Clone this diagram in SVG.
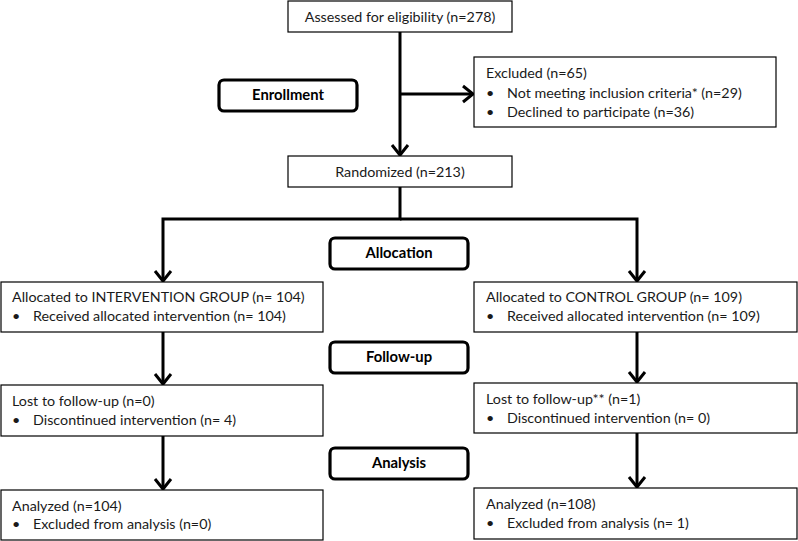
<svg xmlns="http://www.w3.org/2000/svg" width="798" height="541" viewBox="0 0 798 541">
<defs>
<marker id="arr" markerUnits="userSpaceOnUse" markerWidth="24" markerHeight="24" viewBox="-14 -12 16 24" refX="0" refY="0" orient="auto">
<path d="M-10,-8 L0,0 L-10,8" fill="none" stroke="#000" stroke-width="3" stroke-linejoin="miter"/>
</marker>
</defs>
<style>
.box{fill:#fff;stroke:#000;stroke-width:1.2}
.stage{fill:#fff;stroke:#000;stroke-width:3.2}
.t{font-family:Lato,"Open Sans","Liberation Sans",sans-serif;font-size:14.3px;fill:#1a1a1a}
.b{font-family:Lato,"Open Sans","Liberation Sans",sans-serif;font-size:14.8px;font-weight:bold;fill:#000;text-anchor:middle}
.c{fill:none;stroke:#000;stroke-width:3}
</style>
<g id="connectors">
<path class="c" d="M400,32 V155" marker-end="url(#arr)"/>
<path class="c" d="M400,94 H473" marker-end="url(#arr)"/>
<path class="c" d="M400,187 V219 H163 V281" marker-end="url(#arr)"/>
<path class="c" d="M400,219 H637 V281" marker-end="url(#arr)"/>
<path class="c" d="M163,332 V384" marker-end="url(#arr)"/>
<path class="c" d="M163,436 V489" marker-end="url(#arr)"/>
<path class="c" d="M637,332 V382" marker-end="url(#arr)"/>
<path class="c" d="M637,433 V487" marker-end="url(#arr)"/>
</g>
<g id="assessed"><rect class="box" x="288" y="1" width="224" height="31"/><text class="t" x="400" y="22" text-anchor="middle">Assessed for eligibility (n=278)</text></g>
<g id="excluded"><rect class="box" x="474" y="57" width="302" height="70"/>
<text class="t" x="486" y="78">Excluded (n=65)</text>
<text class="t" x="486" y="98">•</text><text class="t" x="507" y="98">Not meeting inclusion criteria* (n=29)</text>
<text class="t" x="486" y="117">•</text><text class="t" x="507" y="117">Declined to participate (n=36)</text></g>
<g id="enrollment"><rect class="stage" x="219" y="80" width="138" height="31" rx="5"/><text class="b" x="288" y="100">Enrollment</text></g>
<g id="randomized"><rect class="box" x="288" y="156" width="224" height="31"/><text class="t" x="400" y="177" text-anchor="middle">Randomized (n=213)</text></g>
<g id="allocation"><rect class="stage" x="330" y="238" width="138" height="31" rx="5"/><text class="b" x="399" y="258">Allocation</text></g>
<g id="alloc-int"><rect class="box" x="1" y="282" width="322" height="50"/>
<text class="t" x="12" y="302">Allocated to INTERVENTION GROUP (n= 104)</text>
<text class="t" x="12" y="321">•</text><text class="t" x="33" y="321">Received allocated intervention (n= 104)</text></g>
<g id="alloc-ctl"><rect class="box" x="474" y="282" width="323" height="50"/>
<text class="t" x="486" y="302">Allocated to CONTROL GROUP (n= 109)</text>
<text class="t" x="486" y="321">•</text><text class="t" x="507" y="321">Received allocated intervention (n= 109)</text></g>
<g id="followup"><rect class="stage" x="330" y="342" width="138" height="31" rx="5"/><text class="b" x="399" y="362">Follow-up</text></g>
<g id="lost-int"><rect class="box" x="1" y="385" width="322" height="51"/>
<text class="t" x="12" y="406">Lost to follow-up (n=0)</text>
<text class="t" x="12" y="425">•</text><text class="t" x="33" y="425">Discontinued intervention (n= 4)</text></g>
<g id="lost-ctl"><rect class="box" x="474" y="383" width="323" height="50"/>
<text class="t" x="486" y="404">Lost to follow-up** (n=1)</text>
<text class="t" x="486" y="423">•</text><text class="t" x="507" y="423">Discontinued intervention (n= 0)</text></g>
<g id="analysis"><rect class="stage" x="330" y="448" width="138" height="31" rx="5"/><text class="b" x="399" y="468">Analysis</text></g>
<g id="anal-int"><rect class="box" x="1" y="490" width="322" height="50"/>
<text class="t" x="12" y="511">Analyzed (n=104)</text>
<text class="t" x="12" y="529">•</text><text class="t" x="33" y="529">Excluded from analysis (n=0)</text></g>
<g id="anal-ctl"><rect class="box" x="474" y="488" width="323" height="51"/>
<text class="t" x="486" y="509">Analyzed (n=108)</text>
<text class="t" x="486" y="528">•</text><text class="t" x="507" y="528">Excluded from analysis (n= 1)</text></g>
</svg>
